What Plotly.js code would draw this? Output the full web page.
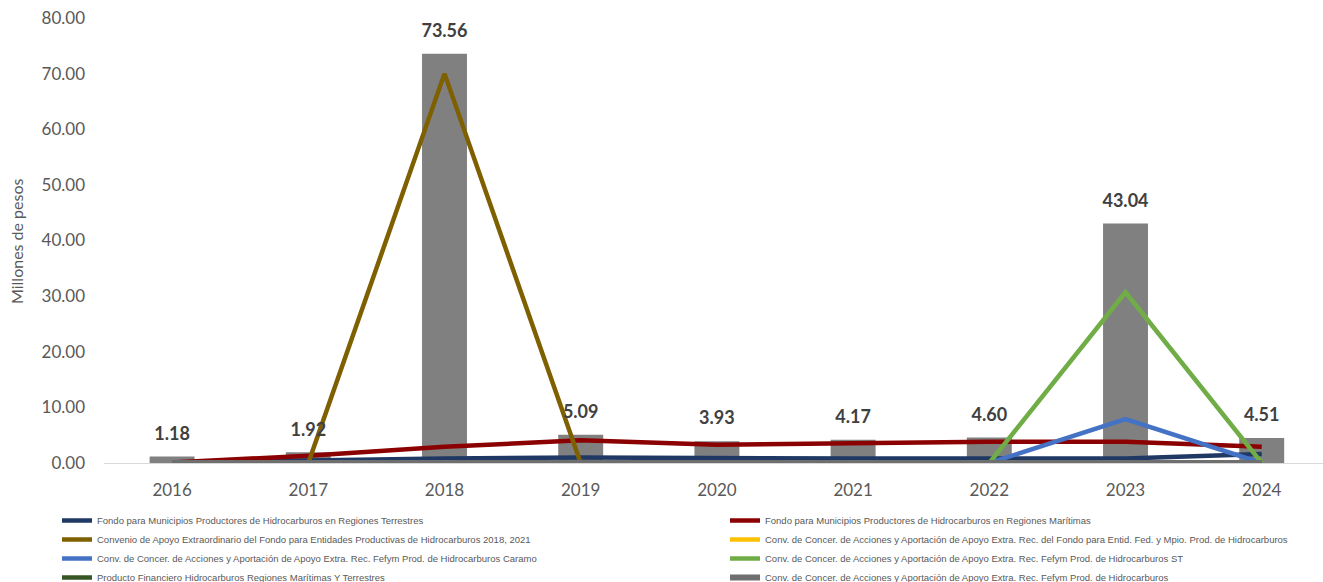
<!DOCTYPE html>
<html>
<head>
<meta charset="utf-8">
<script src="https://cdn.plot.ly/plotly-3.0.1.min.js"></script>
<style>html,body{margin:0;padding:0;background:#fff;}#chart{width:1323px;height:582px;}</style>
</head>
<body>
<div id="chart"></div>
<script>
const years = ['2016','2017','2018','2019','2020','2021','2022','2023','2024'];
const totals = [1.18, 1.92, 73.56, 5.09, 3.93, 4.17, 4.60, 43.04, 4.51];
const totalLabels = ['1.18','1.92','73.56','5.09','3.93','4.17','4.60','43.04','4.51'];
const yTitle = 'Millones de pesos';

const terrestres = [0.1, 0.5, 0.8, 1.0, 0.8, 0.8, 0.8, 0.8, 1.6];
const maritimas = [0.1, 1.3, 2.9, 4.1, 3.3, 3.6, 3.8, 3.8, 2.9];
const convenio = [0, 0, 70.0, 0, 0, 0, 0, 0, 0];
const convFondo = [0, 0, 0, 0, 0, 0, 0, 0, 0];
const caramo = [0, 0, 0, 0, 0, 0, 0, 7.9, 0];
const fefymST = [0, 0, 0, 0, 0, 0, 0, 30.7, 0];
const productoFin = [0, 0, 0, 0, 0, 0, 0, 0, 0];
const fefym = [0, 0, 0, 0, 0, 0, 0, 0, 0];

const names = [
  'Fondo para Municipios Productores de Hidrocarburos en Regiones Terrestres',
  'Fondo para Municipios Productores de Hidrocarburos en Regiones Marítimas',
  'Convenio de Apoyo Extraordinario del Fondo para Entidades Productivas de Hidrocarburos 2018, 2021',
  'Conv. de Concer. de Acciones y Aportación de Apoyo Extra. Rec. del Fondo para Entid. Fed. y Mpio. Prod. de Hidrocarburos',
  'Conv. de Concer. de Acciones y Aportación de Apoyo Extra. Rec. Fefym Prod. de Hidrocarburos Caramo',
  'Conv. de Concer. de Acciones y Aportación de Apoyo Extra. Rec. Fefym Prod. de Hidrocarburos ST',
  'Producto Financiero Hidrocarburos Regiones Marítimas Y Terrestres',
  'Conv. de Concer. de Acciones y Aportación de Apoyo Extra. Rec. Fefym Prod. de Hidrocarburos'
];
const series = [terrestres, maritimas, convenio, convFondo, caramo, fefymST, productoFin, fefym];
const colors = ['#203864', '#8b0000', '#7f6000', '#ffc000', '#4472c4', '#70ad47', '#375623', '#6f6f6f'];
const widths = [4.5, 4.5, 4.5, 4.5, 4.5, 4.5, 4.5, 6];
const legendOf = ['legend', 'legend2', 'legend', 'legend2', 'legend', 'legend2', 'legend', 'legend2'];

const traces = [{
  type: 'bar', x: years, y: totals, marker: {color: '#808080'}, width: 0.33,
  showlegend: false, hoverinfo: 'y'
}];
series.forEach((s, i) => {
  traces.push({
    type: 'scatter', mode: 'lines', x: years, y: s, name: names[i],
    line: {color: colors[i], width: widths[i]}, legend: legendOf[i]
  });
});
traces.push({
  type: 'scatter', mode: 'markers+text', x: years, y: totals,
  text: totalLabels.map(t => '<b>' + t + '</b>'), textposition: 'top center',
  marker: {size: 18, opacity: 0}, showlegend: false, hoverinfo: 'skip',
  textfont: {size: 18, color: '#404040', family: 'Lato, sans-serif'}
});

// plot area: x 104..1323, y 18..463
const px = v => (v - 104) / 1219;
const py = v => (463 - v) / 445;
const legendFont = {size: 9.5, color: '#595959', family: '"Liberation Sans Narrow", "Liberation Sans", sans-serif'};
const layout = {
  width: 1323, height: 582,
  margin: {l: 104, r: 0, t: 18, b: 119, autoexpand: false},
  paper_bgcolor: '#fff', plot_bgcolor: '#fff',
  font: {family: 'Lato, sans-serif', color: '#595959'},
  xaxis: {
    type: 'category', range: [-0.5, 8.45], showgrid: false, zeroline: false,
    showline: true, linecolor: '#d9d9d9', linewidth: 1, ticks: '',
    tickfont: {size: 17, color: '#595959'}, ticklabelstandoff: 12, automargin: false
  },
  yaxis: {
    range: [0, 80], dtick: 10, tickformat: '.2f', showgrid: false, zeroline: false,
    showline: false, ticks: '', tickfont: {size: 17, color: '#595959'},
    ticklabelstandoff: 18, automargin: false
  },
  annotations: [{
    xref: 'paper', yref: 'paper', x: px(17), y: py(241), xanchor: 'center', yanchor: 'middle',
    text: yTitle, textangle: -90,
    showarrow: false, font: {size: 16, color: '#595959', family: 'Lato, sans-serif'}
  }],
  barmode: 'overlay',
  showlegend: true,
  legend: {
    x: px(57), xanchor: 'left', y: py(506), yanchor: 'top',
    orientation: 'v', font: legendFont, bgcolor: 'rgba(0,0,0,0)', traceorder: 'normal', tracegroupgap: 0
  },
  legend2: {
    x: px(725), xanchor: 'left', y: py(506), yanchor: 'top',
    orientation: 'v', font: legendFont, bgcolor: 'rgba(0,0,0,0)', traceorder: 'normal', tracegroupgap: 0
  }
};

Plotly.newPlot('chart', traces, layout, {displayModeBar: false});
</script>
</body>
</html>
